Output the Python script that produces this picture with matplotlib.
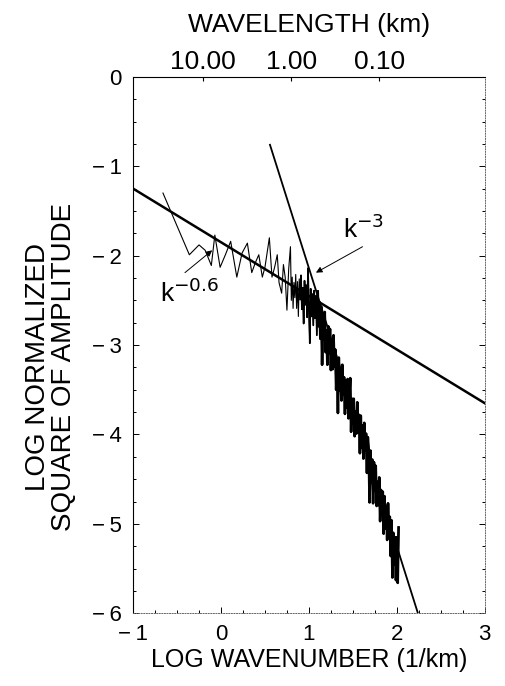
import numpy as np
import matplotlib.pyplot as plt
from matplotlib.ticker import MultipleLocator

# log wavenumber / log power
spec_x = [-0.66, -0.36, -0.25, -0.18, -0.11, -0.07, -0.01, 0.05, 0.11, 0.18,
          0.24, 0.30, 0.35, 0.39, 0.43, 0.47, 0.50, 0.55, 0.58, 0.61,
          0.64, 0.66, 0.69, 0.71, 0.73, 0.75, 0.77, 0.79,
          0.80, 0.81, 0.82, 0.83, 0.84, 0.85, 0.86, 0.87, 0.88, 0.89,
          0.90, 0.91, 0.92, 0.93, 0.94, 0.95, 0.96, 0.97, 0.98, 0.99,
          1.00, 1.01, 1.02, 1.03, 1.04, 1.05, 1.06, 1.07, 1.08, 1.09,
          1.10, 1.11, 1.12, 1.13, 1.14, 1.15, 1.16, 1.17, 1.18, 1.19,
          1.20, 1.21, 1.22, 1.23, 1.24, 1.25, 1.26, 1.27, 1.28, 1.29,
          1.30, 1.31, 1.32, 1.33, 1.34, 1.35, 1.36, 1.37, 1.38, 1.39,
          1.40, 1.41, 1.42, 1.43, 1.44, 1.45, 1.46, 1.47, 1.48, 1.49,
          1.50, 1.51, 1.52, 1.53, 1.54, 1.55, 1.56, 1.57, 1.58, 1.59,
          1.60, 1.61, 1.62, 1.63, 1.64, 1.65, 1.66, 1.67, 1.68, 1.69,
          1.70, 1.71, 1.72, 1.73, 1.74, 1.75, 1.76, 1.77, 1.78, 1.79,
          1.80, 1.81, 1.82, 1.83, 1.84, 1.85, 1.86, 1.87, 1.88, 1.89,
          1.90, 1.91, 1.92, 1.93, 1.94, 1.95, 1.96, 1.97, 1.98, 1.99,
          2.00, 2.01, 2.02]
spec_y = [-1.30, -1.99, -1.88, -1.94, -2.11, -1.77, -2.13, -1.99, -1.84, -2.24,
          -1.97, -1.86, -2.19, -2.08, -1.99, -2.24, -2.13, -1.80, -2.24, -2.13,
          -1.99, -2.30, -2.42, -2.10, -2.24, -2.61, -2.15, -1.90,
          -2.50, -2.24, -2.59, -2.30, -2.47, -2.21, -2.59, -2.29, -2.68, -2.26,
          -2.49, -2.22, -2.60, -2.36, -2.76, -2.28, -2.55, -2.33, -2.69, -2.14,
          -2.60, -2.98, -2.37, -2.68, -2.43, -2.78, -2.39, -2.70, -2.45, -2.89,
          -2.40, -2.79, -2.52, -2.93, -2.57, -3.22, -2.67, -2.94, -2.63, -3.08,
          -2.84, -3.22, -2.79, -3.09, -2.82, -3.28, -2.96, -3.27, -2.89, -3.24,
          -3.05, -3.50, -3.15, -3.76, -3.14, -3.51, -3.29, -3.62, -3.22, -3.55,
          -3.36, -3.77, -3.40, -3.70, -3.38, -3.82, -3.55, -3.37, -3.97, -3.60,
          -3.87, -3.60, -4.02, -3.74, -3.99, -3.64, -3.98, -3.78, -4.21, -3.79,
          -4.15, -3.90, -4.27, -3.87, -4.18, -3.99, -4.43, -4.03, -4.17, -4.76,
          -4.18, -4.54, -4.28, -4.77, -4.31, -4.63, -4.35, -4.80, -4.53, -4.79,
          -4.48, -4.97, -4.62, -4.87, -4.64, -5.11, -4.69, -5.05, -4.80, -5.18,
          -4.77, -5.12, -4.92, -5.36, -4.96, -5.60, -5.10, -5.45, -5.15, -5.63,
          -5.15, -5.66, -5.04]

# fitted power laws (end points)
fit06_x = [-1.0, 3.0]
fit06_y = [-1.25, -3.65]
fit3_x = [0.557, 2.24]
fit3_y = [-0.76, -6.0]

x_ticks = [-1, 0, 1, 2, 3]
x_ticklabels = ['\u2212\u20091', '0', '1', '2', '3']
y_ticks = [-6, -5, -4, -3, -2, -1, 0]
y_ticklabels = ['\u2212\u20096', '\u2212\u20095', '\u2212\u20094', '\u2212\u20093',
                '\u2212\u20092', '\u2212\u20091', '0']
wavelengths = [10.0, 1.0, 0.1]
wl_labels = ['10.00', '1.00', '0.10']

plt.rcParams['font.family'] = ['Liberation Sans', 'DejaVu Sans']

fig = plt.figure(figsize=(5.06, 6.86), dpi=100)
ax = fig.add_axes([0.263, 0.106, 0.695, 0.782])

sx = np.array(spec_x)
sy = np.array(spec_y)
mid = sx >= 0.9
dense = sx >= 1.1
ax.plot(sx, sy, color='black', lw=0.8)
ax.plot(sx[mid], sy[mid], color='black', lw=1.2)
ax.plot(sx[dense], sy[dense], color='black', lw=1.9)
ax.plot(fit06_x, fit06_y, color='black', lw=1.8)
ax.plot(fit3_x, fit3_y, color='black', lw=1.3)

ax.set_xlim(-1, 3)
ax.set_ylim(-6, 0)
ax.set_xticks(x_ticks)
ax.set_xticklabels(x_ticklabels)
ax.set_yticks(y_ticks)
ax.set_yticklabels(y_ticklabels)
ax.xaxis.set_minor_locator(MultipleLocator(0.25))
ax.yaxis.set_minor_locator(MultipleLocator(0.25))
ax.tick_params(which='both', direction='in', right=True, labelsize=16, width=0.7)
ax.tick_params(which='major', length=4, pad=8)
ax.tick_params(which='minor', length=2)

for side in ['top', 'left']:
    ax.spines[side].set_linewidth(0.8)
for side in ['bottom', 'right']:
    ax.spines[side].set_linestyle(':')
    ax.spines[side].set_linewidth(0.7)
    ax.spines[side].set_color('0.4')

ax.set_xlabel('LOG WAVENUMBER (1/km)', fontsize=18, labelpad=2)
ax.set_ylabel('LOG NORMALIZED\nSQUARE OF AMPLITUDE', fontsize=20,
              linespacing=1.0)
ax.yaxis.set_label_coords(-0.16, 0.46)

# top axis: wavelength = 2*pi / k
top = ax.secondary_xaxis('top')
top.set_xticks([np.log10(2 * np.pi / w) for w in wavelengths])
top.set_xticklabels(wl_labels)
top.xaxis.set_minor_locator(plt.NullLocator())
top.tick_params(direction='in', length=3, labelsize=19, pad=2)
top.spines['top'].set_visible(False)
top.set_xlabel('WAVELENGTH (km)', fontsize=19, labelpad=13)

ax.text(-0.69, -2.52, 'k$^{-0.6}$', fontsize=19)
ax.text(1.39, -1.80, 'k$^{-3}$', fontsize=19)
arrow = dict(arrowstyle='-|>', color='black', lw=0.7, mutation_scale=9,
             shrinkA=0, shrinkB=0)
ax.annotate('', xy=(1.08, -2.19), xytext=(1.61, -1.90), arrowprops=arrow)
ax.annotate('', xy=(-0.10, -1.94), xytext=(-0.41, -2.19), arrowprops=arrow)

fig.savefig('out.png', dpi=100)
